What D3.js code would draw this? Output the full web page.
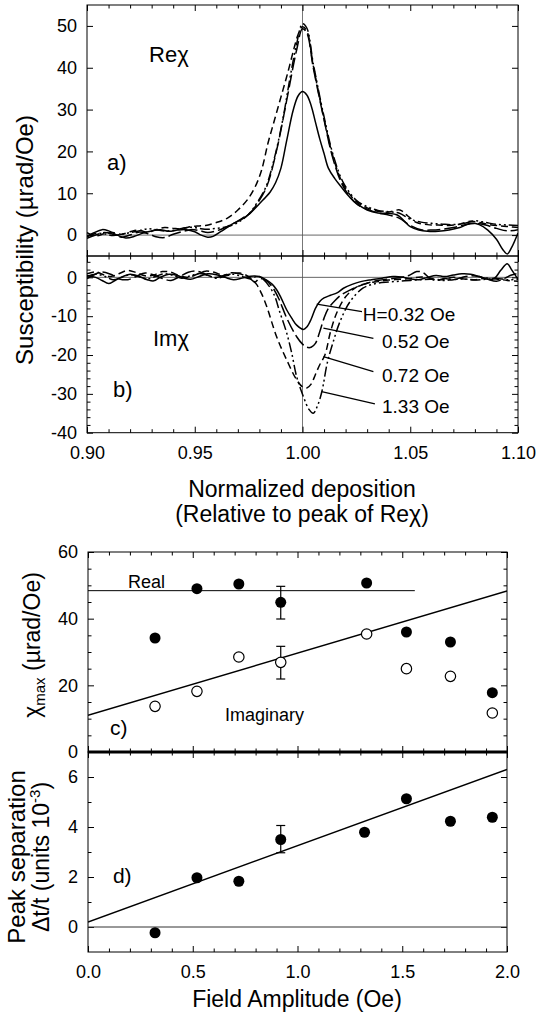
<!DOCTYPE html>
<html><head><meta charset="utf-8">
<script src="https://cdn.jsdelivr.net/npm/d3@7"></script>
<style>
body{margin:0;background:#fff}
svg{display:block}
text{font-family:"Liberation Sans",Arial,Helvetica,sans-serif;fill:#000}
</style>
</head><body>
<svg id="chart" width="538" height="1020"></svg>
<script>
// ---------------- DATA ----------------
// Panel a: Re(chi) vs normalized deposition, one curve per field amplitude
const reA032 = [[0.900,-0.3],[0.903,0.5],[0.907,1.3],[0.910,1.0],[0.914,0.0],[0.918,-0.7],[0.922,-0.3],[0.926,0.5],[0.930,1.0],[0.934,1.3],[0.938,0.9],[0.942,1.2],[0.946,1.3],[0.950,0.8],[0.953,0.0],[0.956,-0.5],[0.9585,-0.3],[0.962,0.8],[0.968,2.8],[0.972,3.8],[0.9756,5.2],[0.980,7.5],[0.985,10.3],[0.9875,12.5],[0.990,16],[0.9927,22.7],[0.9957,29.9],[0.998,33.3],[1.000,34.3],[1.002,33.5],[1.004,31],[1.006,27],[1.008,23],[1.010,19.5],[1.012,16],[1.015,13.5],[1.018,11.5],[1.022,9],[1.026,7.2],[1.030,6.0],[1.035,5.3],[1.040,5.2],[1.044,4.8],[1.047,3.5],[1.050,2.0],[1.054,1.2],[1.058,0.9],[1.063,0.9],[1.068,1.2],[1.073,1.8],[1.078,2.8],[1.082,2.5],[1.086,1.2],[1.090,-1.0],[1.093,-3.5],[1.095,-4.5],[1.097,-3.0],[1.100,0.5]];
const reA052 = [[0.900,-0.8],[0.904,0.0],[0.908,0.6],[0.912,0.2],[0.916,-0.5],[0.920,0.0],[0.924,0.7],[0.928,0.4],[0.932,-0.4],[0.936,-0.6],[0.940,0.2],[0.944,0.8],[0.948,1.3],[0.952,1.1],[0.956,0.6],[0.960,1.0],[0.964,1.8],[0.968,2.8],[0.972,4.0],[0.9756,5.2],[0.979,7.5],[0.9834,11.6],[0.988,20.3],[0.9927,32.3],[0.9973,44.3],[1.000,49.3],[1.002,48.3],[1.005,40],[1.0097,28.3],[1.0143,18],[1.019,11.5],[1.025,7.5],[1.030,6.2],[1.035,5.3],[1.040,4.8],[1.045,4.0],[1.050,2.3],[1.055,1.3],[1.060,1.2],[1.065,1.4],[1.070,1.8],[1.075,2.4],[1.080,2.8],[1.085,2.4],[1.090,1.6],[1.095,1.0],[1.100,1.3]];
const reA072 = [[0.900,0.6],[0.904,-0.2],[0.908,0.3],[0.912,0.6],[0.916,0.2],[0.920,0.8],[0.924,1.2],[0.928,0.7],[0.932,1.3],[0.936,1.8],[0.940,1.6],[0.944,1.5],[0.948,2.0],[0.952,2.2],[0.955,2.3],[0.960,3.0],[0.965,4.0],[0.970,6.0],[0.9745,8.5],[0.978,11.5],[0.981,15.5],[0.984,22],[0.987,27.5],[0.990,33],[0.993,38.5],[0.996,44.5],[0.998,48],[1.000,49.8],[1.002,48.8],[1.005,40.5],[1.0097,28.5],[1.0143,18.5],[1.019,12],[1.025,8],[1.030,6.5],[1.035,5.7],[1.040,5.5],[1.0452,6.0],[1.049,4.5],[1.053,3.0],[1.058,2.5],[1.063,2.4],[1.068,2.3],[1.073,2.6],[1.078,3.3],[1.082,3.0],[1.087,2.5],[1.092,2.2],[1.096,2.0],[1.100,1.8]];
const reA133 = [[0.900,-0.4],[0.904,0.4],[0.908,0.3],[0.912,-0.1],[0.916,0.2],[0.920,0.6],[0.924,1.0],[0.928,1.5],[0.932,1.3],[0.936,1.0],[0.940,1.1],[0.944,1.6],[0.948,1.9],[0.952,1.6],[0.956,1.4],[0.960,1.6],[0.965,2.0],[0.970,3.0],[0.975,5.0],[0.979,7.8],[0.983,11.5],[0.987,18.5],[0.991,28],[0.994,37],[0.997,45],[1.000,50.5],[1.002,49.5],[1.005,41],[1.0097,29],[1.0143,19],[1.019,12.5],[1.025,8.3],[1.030,6.8],[1.035,5.9],[1.040,5.6],[1.045,5.2],[1.050,3.8],[1.055,3.1],[1.060,2.8],[1.065,2.6],[1.070,2.5],[1.075,2.8],[1.080,3.4],[1.085,3.0],[1.090,2.6],[1.095,2.4],[1.100,2.3]];

// Panel b: Im(chi)
const imB032 = [[0.900,0.5],[0.904,0.0],[0.907,-0.8],[0.910,-1.6],[0.913,-0.8],[0.917,0.3],[0.920,0.8],[0.924,0.3],[0.928,-0.6],[0.931,-0.9],[0.934,0.0],[0.938,0.8],[0.942,0.5],[0.945,-0.2],[0.948,-0.5],[0.952,0.2],[0.956,0.9],[0.960,0.7],[0.964,0.0],[0.968,-0.6],[0.972,-0.2],[0.976,0.3],[0.980,0.2],[0.983,-0.6],[0.986,-1.8],[0.988,-3.2],[0.990,-5.2],[0.9927,-8.4],[0.995,-10.5],[0.9973,-12.3],[1.0004,-13.4],[1.002,-12.8],[1.004,-10.8],[1.006,-8.0],[1.008,-6.2],[1.010,-5.3],[1.013,-4.6],[1.016,-4.0],[1.019,-2.8],[1.023,-1.8],[1.027,-1.1],[1.032,-0.6],[1.037,-0.2],[1.042,0.2],[1.046,0.1],[1.050,-0.4],[1.054,-0.6],[1.058,0.0],[1.062,0.5],[1.066,0.2],[1.070,0.6],[1.074,0.9],[1.078,0.8],[1.082,0.2],[1.086,-0.5],[1.089,-0.3],[1.092,1.8],[1.095,3.5],[1.097,2.0],[1.100,-0.5]];
const imB052 = [[0.900,-0.3],[0.903,0.6],[0.907,1.4],[0.911,0.8],[0.915,-0.4],[0.919,-0.6],[0.923,0.3],[0.927,1.1],[0.931,0.6],[0.935,-0.3],[0.939,-0.8],[0.943,0.2],[0.947,1.3],[0.951,1.6],[0.955,0.8],[0.959,0.0],[0.963,0.4],[0.967,1.2],[0.971,0.9],[0.975,0.0],[0.978,-1.2],[0.980,-0.3],[0.983,-0.8],[0.986,-2.5],[0.989,-5.5],[0.9927,-10.5],[0.9973,-15.3],[1.000,-17.2],[1.002,-18.0],[1.004,-18.0],[1.006,-17.0],[1.008,-14.0],[1.010,-10.5],[1.012,-8.0],[1.015,-6.0],[1.018,-4.5],[1.022,-3.3],[1.026,-2.3],[1.030,-1.5],[1.035,-0.8],[1.040,-0.4],[1.045,-0.1],[1.049,0.4],[1.053,1.5],[1.056,1.2],[1.059,-0.2],[1.062,-0.8],[1.066,-0.3],[1.070,-0.6],[1.074,0.0],[1.078,0.4],[1.082,0.2],[1.086,-0.5],[1.090,-1.0],[1.094,-0.2],[1.097,0.6],[1.100,1.0]];
const imB072 = [[0.900,0.9],[0.904,1.4],[0.908,0.6],[0.911,0.2],[0.915,1.0],[0.919,1.8],[0.923,1.2],[0.927,0.4],[0.931,0.6],[0.935,1.5],[0.939,1.3],[0.943,0.4],[0.947,0.0],[0.951,0.8],[0.955,1.6],[0.959,1.3],[0.963,0.6],[0.967,0.9],[0.971,1.1],[0.975,0.2],[0.977,-0.8],[0.9787,-1.8],[0.981,-4.2],[0.9834,-7.5],[0.988,-15.3],[0.9927,-21.3],[0.9973,-26.4],[1.000,-28.2],[1.002,-28.5],[1.004,-27.5],[1.006,-25.0],[1.008,-22.5],[1.0104,-20.0],[1.013,-14.0],[1.016,-9.0],[1.020,-5.0],[1.025,-2.5],[1.030,-1.5],[1.035,-1.1],[1.040,-0.7],[1.045,-0.5],[1.050,-0.3],[1.055,0.1],[1.060,-0.3],[1.065,-0.6],[1.070,0.0],[1.075,-0.4],[1.080,-0.6],[1.085,-0.2],[1.090,-0.4],[1.095,-0.8],[1.100,-1.0]];
const imB133 = [[0.900,0.2],[0.904,0.8],[0.908,0.3],[0.912,-0.6],[0.916,0.0],[0.920,0.7],[0.924,0.2],[0.928,-0.4],[0.932,0.3],[0.936,0.9],[0.940,0.5],[0.944,-0.2],[0.948,0.4],[0.952,1.0],[0.956,0.5],[0.960,-0.2],[0.964,0.3],[0.968,0.8],[0.972,0.2],[0.976,-0.4],[0.979,0.3],[0.982,-0.6],[0.9865,-4.1],[0.9895,-9.0],[0.9927,-14.4],[0.995,-19.5],[0.9973,-25.6],[1.0004,-30.7],[1.003,-34.0],[1.005,-35.0],[1.007,-33.0],[1.009,-29.4],[1.0115,-22.0],[1.0143,-16.5],[1.0174,-11.4],[1.022,-6.3],[1.028,-2.8],[1.034,-1.6],[1.040,-1.2],[1.045,-1.0],[1.050,-0.8],[1.055,-0.6],[1.060,-0.5],[1.065,-0.8],[1.070,-0.6],[1.075,-0.4],[1.080,-0.7],[1.085,-0.5],[1.090,-0.3],[1.095,-0.6],[1.100,-0.5]];

const fieldLabels = ["H=0.32 Oe", "0.52 Oe", "0.72 Oe", "1.33 Oe"];
const pointerFrom = [[1.0066,-6.9],[1.0097,-13.1],[1.0097,-20.4],[1.0089,-29.4]];
const pointerTo   = [[1.0276,-8.8],[1.0329,-15.7],[1.0329,-24.3],[1.0336,-32.6]];
const labelAt     = [[1.0280,-11.3],[1.0369,-18.3],[1.0369,-26.9],[1.0369,-35.0]];

// Panel c: chi_max vs field amplitude
const fieldAmp   = [0.32, 0.52, 0.72, 0.92, 1.33, 1.52, 1.73, 1.93];
const chiReal    = [34.2, 49.0, 50.4, 44.9, 50.7, 36.0, 33.0, 17.8];
const chiImag    = [13.7, 18.2, 28.5, 26.9, 35.4, 25.0, 22.7, 11.7];
const errReal    = [{x:0.92, lo:39.9, hi:49.7}];
const errImag    = [{x:0.92, lo:21.9, hi:31.7}];
const realLevel  = [[0, 48.4], [1.56, 48.4]];
const imagFit    = [[0, 11.0], [2.0, 48.3]];

// Panel d: peak separation
const peakSep    = [-0.23, 1.97, 1.83, 3.50, 3.79, 5.13, 4.23, 4.39];
const fieldAmpD  = [0.32, 0.52, 0.72, 0.92, 1.32, 1.52, 1.73, 1.93];
const errSep     = [{x:0.92, lo:2.97, hi:4.06}];
const sepFit     = [[0, 0.2], [2.0, 6.3]];

// ticks
const xTopMajor = [0.90, 0.95, 1.00, 1.05, 1.10];
const xTopMinor = d3.range(90, 111).filter(v => v % 5 !== 0).map(v => v / 100);
const yAMajor = [0, 10, 20, 30, 40, 50];
const yBMajor = [0, -10, -20, -30, -40];
const yBMinor = [4, 2, -2, -4, -6, -8, -12, -14, -16, -18, -22, -24, -26, -28, -32, -34, -36, -38];
const xBotMajor = [0, 0.5, 1.0, 1.5, 2.0];
const xBotMinor = d3.range(0, 21).filter(v => v % 5 !== 0).map(v => v / 10);
const yCMajor = [0, 20, 40, 60];
const yCMinor = [5, 10, 15, 25, 30, 35, 45, 50, 55];
const yDMajor = [0, 2, 4, 6];
const yDMinor = [1, 3, 5];

// ---------------- LAYOUT ----------------
const svg = d3.select("#chart");
const xTop = d3.scaleLinear().domain([0.9, 1.1]).range([87, 518]);
const yA = d3.scaleLinear().domain([-5, 55]).range([256, 5]);
const yB = d3.scaleLinear().domain([-40, 5.5]).range([432.7, 256]);
const xBot = d3.scaleLinear().domain([0, 2]).range([88, 507]);
const yC = d3.scaleLinear().domain([0, 60]).range([752, 552]);
const yD = d3.scaleLinear().domain([-1, 7]).range([952, 752]);

const TICK_FONT = 18, TITLE_FONT = 23;
const MAJ = 6, MIN = 3.5;

function clip(id, x, y) {
  svg.append("clipPath").attr("id", id).append("rect")
    .attr("x", x.range()[0]).attr("y", Math.min(...y.range()))
    .attr("width", x.range()[1] - x.range()[0])
    .attr("height", Math.abs(y.range()[0] - y.range()[1]));
}
clip("clipA", xTop, yA); clip("clipB", xTop, yB);
clip("clipC", xBot, yC); clip("clipD", xBot, yD);

function cleanAxis(g) {
  g.attr("font-size", null).attr("font-family", null);
  g.select(".domain").remove();
  g.selectAll(".tick line").attr("stroke", "#000").attr("stroke-width", 1);
  g.selectAll(".tick text").attr("font-size", TICK_FONT).attr("fill", "#000");
}
function addAxis(axis, tx, ty) {
  const g = svg.append("g").attr("transform", `translate(${tx},${ty})`).call(axis);
  cleanAxis(g);
  return g;
}
const fmtPlain = d => String(d);

function yAxes(x, y, major, minor, fmt) {
  const l = x.range()[0], r = x.range()[1];
  addAxis(d3.axisLeft(y).tickValues(major).tickSize(-MAJ).tickPadding(10).tickFormat(fmt), l, 0);
  addAxis(d3.axisRight(y).tickValues(major).tickSize(-MAJ).tickFormat(""), r, 0);
  if (minor.length) {
    addAxis(d3.axisLeft(y).tickValues(minor).tickSize(-MIN).tickFormat(""), l, 0);
    addAxis(d3.axisRight(y).tickValues(minor).tickSize(-MIN).tickFormat(""), r, 0);
  }
}
function xTicksAt(x, major, minor, ypos, dir) {
  const mk = dir === "down" ? d3.axisTop : d3.axisBottom;
  addAxis(mk(x).tickValues(major).tickSize(-MAJ).tickFormat(""), 0, ypos);
  addAxis(mk(x).tickValues(minor).tickSize(-MIN).tickFormat(""), 0, ypos);
}

// ---------------- TOP FIGURE (a, b) ----------------
function frame(x, y, sw) {
  svg.append("rect")
    .attr("x", x.range()[0]).attr("y", Math.min(...y.range()))
    .attr("width", x.range()[1] - x.range()[0])
    .attr("height", Math.abs(y.range()[0] - y.range()[1]))
    .attr("fill", "none").attr("stroke", "#000").attr("stroke-width", sw || 1);
}

svg.append("line").attr("x1", xTop(1.0)).attr("x2", xTop(1.0))
  .attr("y1", yA.range()[1]).attr("y2", yB.range()[0])
  .attr("stroke", "#777").attr("stroke-width", 1);
svg.append("line").attr("x1", xTop.range()[0]).attr("x2", xTop.range()[1])
  .attr("y1", yA(0)).attr("y2", yA(0)).attr("stroke", "#555").attr("stroke-width", 0.9);
svg.append("line").attr("x1", xTop.range()[0]).attr("x2", xTop.range()[1])
  .attr("y1", yB(0)).attr("y2", yB(0)).attr("stroke", "#555").attr("stroke-width", 0.9);

const styles = [null, "13,4", "7,4", "10,3,2,3,2,3"];
const lineA = d3.line().x(d => xTop(d[0])).y(d => yA(d[1])).curve(d3.curveCatmullRom.alpha(0.5));
const lineB = d3.line().x(d => xTop(d[0])).y(d => yB(d[1])).curve(d3.curveCatmullRom.alpha(0.5));
const gA = svg.append("g").attr("clip-path", "url(#clipA)");
[reA032, reA052, reA072, reA133].forEach((s, i) => {
  gA.append("path").attr("d", lineA(s)).attr("fill", "none").attr("stroke", "#000")
    .attr("stroke-width", 1.5).attr("stroke-dasharray", styles[i]);
});
const gB = svg.append("g").attr("clip-path", "url(#clipB)");
[imB032, imB052, imB072, imB133].forEach((s, i) => {
  gB.append("path").attr("d", lineB(s)).attr("fill", "none").attr("stroke", "#000")
    .attr("stroke-width", 1.5).attr("stroke-dasharray", styles[i]);
});

frame(xTop, yA); frame(xTop, yB);
yAxes(xTop, yA, yAMajor, [], fmtPlain);
yAxes(xTop, yB, yBMajor, yBMinor, fmtPlain);
xTicksAt(xTop, xTopMajor, xTopMinor, yA.range()[1], "down");
xTicksAt(xTop, xTopMajor, xTopMinor, yA.range()[0], "up");
xTicksAt(xTop, xTopMajor, xTopMinor, yB.range()[1], "down");
xTicksAt(xTop, xTopMajor, xTopMinor, yB.range()[0], "up");
addAxis(d3.axisBottom(xTop).tickValues(xTopMajor).tickSize(0).tickPadding(14).tickFormat(d3.format(".2f")), 0, yB.range()[0]);

fieldLabels.forEach((t, i) => {
  svg.append("line")
    .attr("x1", xTop(pointerFrom[i][0])).attr("y1", yB(pointerFrom[i][1]))
    .attr("x2", xTop(pointerTo[i][0])).attr("y2", yB(pointerTo[i][1]))
    .attr("stroke", "#000").attr("stroke-width", 1.3);
  svg.append("text").attr("x", xTop(labelAt[i][0])).attr("y", yB(labelAt[i][1]))
    .attr("font-size", 19).text(t);
});

function txt(x, y, s, size) {
  return svg.append("text").attr("x", x).attr("y", y).attr("font-size", size).text(s);
}
txt(xTop(0.9288), yA(41.4), "Reχ", 22);
txt(xTop(0.9093), yA(15.5), "a)", 22);
txt(xTop(0.9306), yB(-17.7), "Imχ", 22);
txt(xTop(0.9121), yB(-30.8), "b)", 22);

svg.append("text").attr("transform", "translate(33,240) rotate(-90)")
  .attr("text-anchor", "middle").attr("font-size", TITLE_FONT + 1).text("Susceptibility (µrad/Oe)");
svg.append("text").attr("x", 302).attr("y", 497).attr("text-anchor", "middle")
  .attr("font-size", TITLE_FONT).text("Normalized deposition");
svg.append("text").attr("x", 302).attr("y", 522).attr("text-anchor", "middle")
  .attr("font-size", TITLE_FONT).text("(Relative to peak of Reχ)");

// ---------------- BOTTOM FIGURE (c, d) ----------------
frame(xBot, yC); frame(xBot, yD);
yAxes(xBot, yC, yCMajor, yCMinor, fmtPlain);
yAxes(xBot, yD, yDMajor, yDMinor, fmtPlain);
xTicksAt(xBot, xBotMajor, xBotMinor, yC.range()[1], "down");
xTicksAt(xBot, xBotMajor, xBotMinor, yC.range()[0], "up");
xTicksAt(xBot, xBotMajor, xBotMinor, yD.range()[1], "down");
xTicksAt(xBot, xBotMajor, xBotMinor, yD.range()[0], "up");
addAxis(d3.axisBottom(xBot).tickValues(xBotMajor).tickSize(0).tickPadding(13).tickFormat(d3.format(".1f")), 0, yD.range()[0]);

svg.append("line").attr("x1", xBot.range()[0]).attr("x2", xBot.range()[1])
  .attr("y1", yC(0)).attr("y2", yC(0)).attr("stroke", "#000").attr("stroke-width", 3);

const lineC = d3.line().x(d => xBot(d[0])).y(d => yC(d[1]));
const lineD = d3.line().x(d => xBot(d[0])).y(d => yD(d[1]));
const gC = svg.append("g").attr("clip-path", "url(#clipC)");
gC.append("path").attr("d", lineC(realLevel)).attr("stroke", "#000").attr("stroke-width", 1).attr("fill", "none");
gC.append("path").attr("d", lineC(imagFit)).attr("stroke", "#000").attr("stroke-width", 1.4).attr("fill", "none");

function errBars(g, x, y, list) {
  list.forEach(e => {
    g.append("line").attr("x1", x(e.x)).attr("x2", x(e.x)).attr("y1", y(e.lo)).attr("y2", y(e.hi)).attr("stroke", "#000").attr("stroke-width", 1.2);
    [e.lo, e.hi].forEach(v => g.append("line").attr("x1", x(e.x) - 4.5).attr("x2", x(e.x) + 4.5)
      .attr("y1", y(v)).attr("y2", y(v)).attr("stroke", "#000").attr("stroke-width", 1.2));
  });
}
errBars(gC, xBot, yC, errReal);
errBars(gC, xBot, yC, errImag);
gC.selectAll("circle.re").data(fieldAmp).join("circle").attr("class", "re")
  .attr("cx", d => xBot(d)).attr("cy", (d, i) => yC(chiReal[i])).attr("r", 5.5).attr("fill", "#000");
gC.selectAll("circle.im").data(fieldAmp).join("circle").attr("class", "im")
  .attr("cx", d => xBot(d)).attr("cy", (d, i) => yC(chiImag[i])).attr("r", 5.2)
  .attr("fill", "#fff").attr("stroke", "#000").attr("stroke-width", 1.2);

txt(xBot(0.191), yC(49.2), "Real", 18);
txt(xBot(0.654), yC(9.3), "Imaginary", 18);
txt(xBot(0.105), yC(5.1), "c)", 21);

const gD = svg.append("g").attr("clip-path", "url(#clipD)");
gD.append("line").attr("x1", xBot.range()[0]).attr("x2", xBot.range()[1])
  .attr("y1", yD(0)).attr("y2", yD(0)).attr("stroke", "#333").attr("stroke-width", 1);
gD.append("path").attr("d", lineD(sepFit)).attr("stroke", "#000").attr("stroke-width", 1.4).attr("fill", "none");
errBars(gD, xBot, yD, errSep);
gD.selectAll("circle.sep").data(fieldAmpD).join("circle").attr("class", "sep")
  .attr("cx", d => xBot(d)).attr("cy", (d, i) => yD(peakSep[i])).attr("r", 5.5).attr("fill", "#000");
txt(xBot(0.119), yD(1.76), "d)", 21);

const tc = svg.append("text").attr("transform", "translate(40,645) rotate(-90)")
  .attr("text-anchor", "middle").attr("font-size", TITLE_FONT);
tc.append("tspan").text("χ");
tc.append("tspan").attr("font-size", 15).attr("dy", 5).text("max");
tc.append("tspan").attr("dy", -5).text(" (µrad/Oe)");

svg.append("text").attr("transform", "translate(25,857) rotate(-90)")
  .attr("text-anchor", "middle").attr("font-size", TITLE_FONT + 1).text("Peak separation");
const td = svg.append("text").attr("transform", "translate(49,857) rotate(-90)")
  .attr("text-anchor", "middle").attr("font-size", TITLE_FONT);
td.append("tspan").text("Δt/t (units 10");
td.append("tspan").attr("font-size", 15).attr("dy", -9).text("-3");
td.append("tspan").attr("dy", 9).text(")");

svg.append("text").attr("x", 297).attr("y", 1007).attr("text-anchor", "middle")
  .attr("font-size", TITLE_FONT).text("Field Amplitude (Oe)");
</script>
</body></html>
